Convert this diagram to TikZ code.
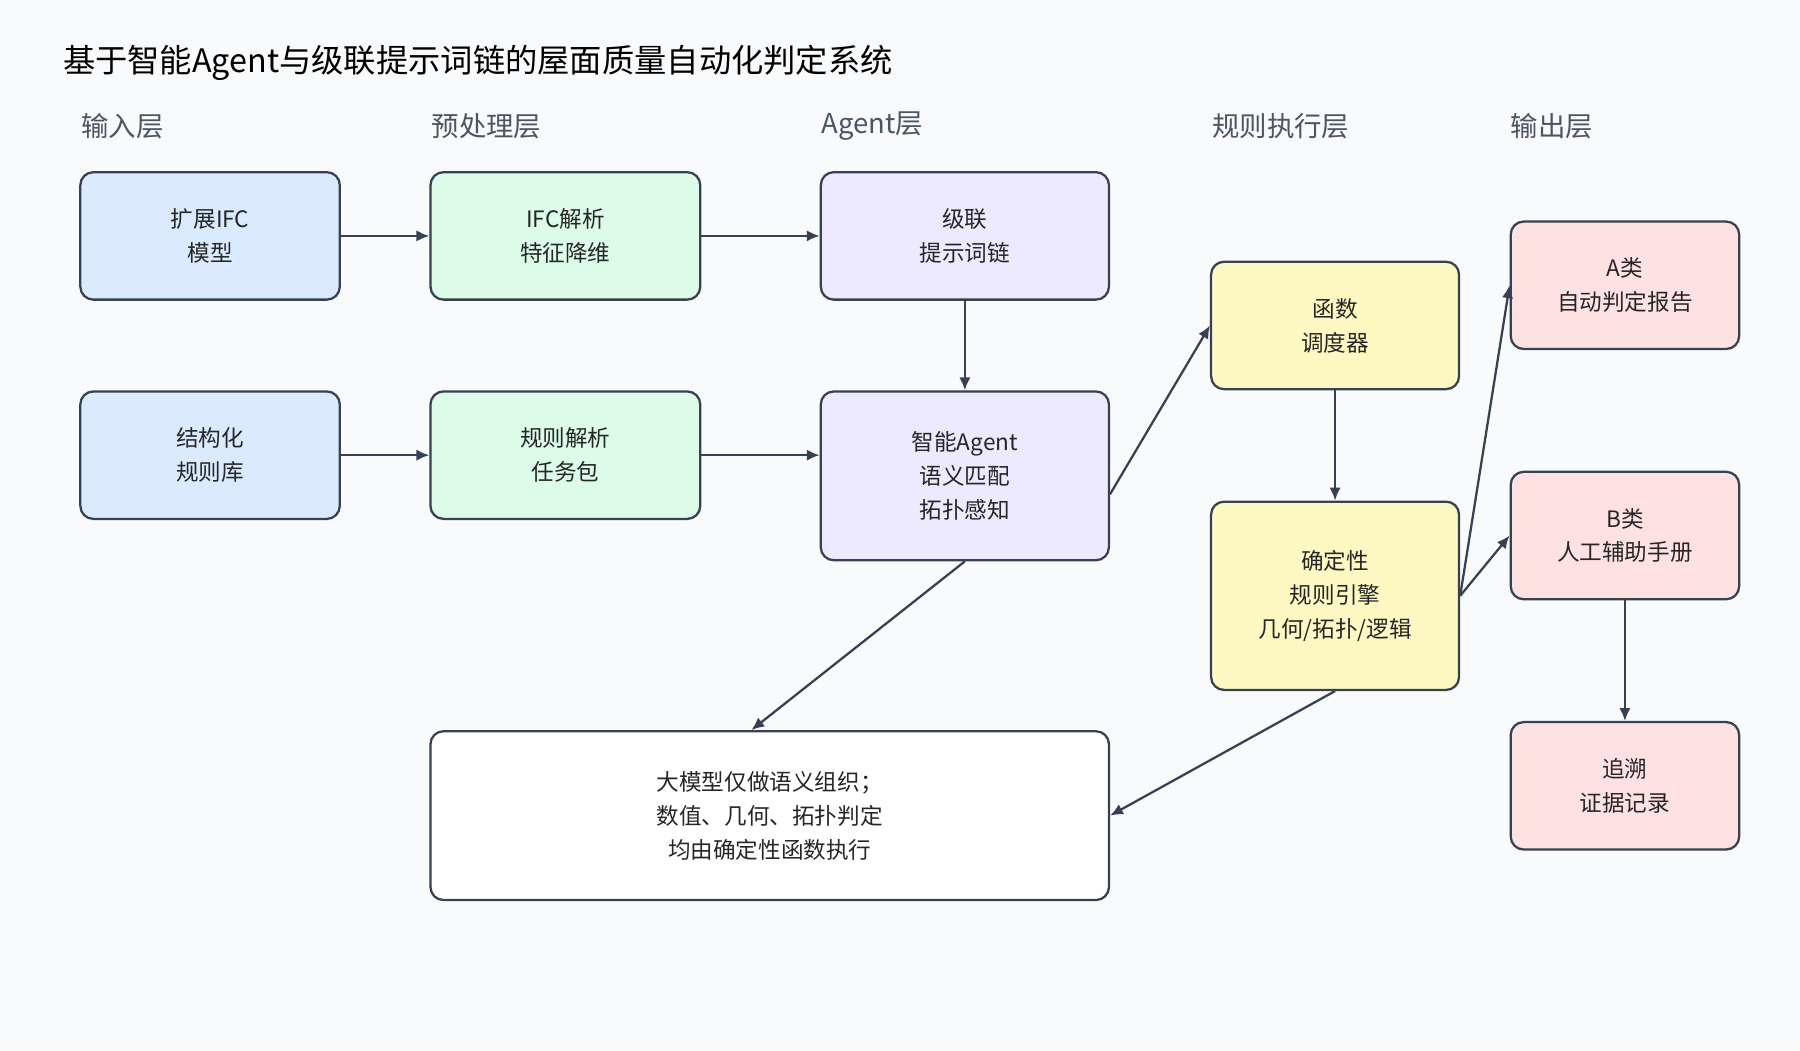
\documentclass[tikz,border=0pt]{standalone}
\usepackage{fontspec}
\setmainfont{Noto Sans CJK SC}
\usetikzlibrary{arrows.meta}
\definecolor{bgc}{HTML}{F8FAFC}
\definecolor{edge}{HTML}{374151}
\definecolor{layertxt}{HTML}{4B5563}
\definecolor{inblue}{HTML}{DBEAFE}
\definecolor{pregreen}{HTML}{DCFCE7}
\definecolor{agpurple}{HTML}{EDE9FE}
\definecolor{ruleyellow}{HTML}{FEF9C3}
\definecolor{outpink}{HTML}{FEE2E2}
\tikzset{
  box/.style={draw=edge, line width=1.4pt, rounded corners=8pt, align=center,
    font=\fontsize{14}{21}\selectfont, text=black!85},
  layer/.style={anchor=west, text=layertxt, font=\fontsize{17}{20}\selectfont},
  link/.style={draw=edge, line width=1.4pt, -{Latex[length=8pt,width=7pt]}}
}
% box from upper-left and lower-right corner (in px)
\newcommand{\mkbox}[7]{%
  \node[box, fill=#2, minimum width={(#5-#3)*0.025cm}, minimum height={(#6-#4)*0.025cm}]
    (#1) at ({(#3+#5)/2}, {(#4+#6)/2}) {#7};}
\begin{document}
\begin{tikzpicture}[x=0.025cm, y=-0.025cm]
  \fill[bgc] (0,0) rectangle (1568,915);
  \useasboundingbox (0,0) rectangle (1568,915);

  \node[anchor=west, font=\fontsize{20}{24}\selectfont] (title) at (50,55)
    {基于智能Agent与级联提示词链的屋面质量自动化判定系统};

  \node[layer] (l1) at (66,110) {输入层};
  \node[layer] (l2) at (371,110) {预处理层};
  \node[layer] (l3) at (711,110) {Agent层};
  \node[layer] (l4) at (1051,110) {规则执行层};
  \node[layer] (l5) at (1311,110) {输出层};

  \mkbox{ifc}{inblue}{70}{150}{296}{261}{扩展IFC\\模型}
  \mkbox{lib}{inblue}{70}{341}{296}{452}{结构化\\规则库}
  \mkbox{parse}{pregreen}{375}{150}{610}{261}{IFC解析\\特征降维}
  \mkbox{task}{pregreen}{375}{341}{610}{452}{规则解析\\任务包}
  \mkbox{chain}{agpurple}{715}{150}{966}{261}{级联\\提示词链}
  \mkbox{agent}{agpurple}{715}{341}{966}{488}{智能Agent\\语义匹配\\拓扑感知}
  \mkbox{sched}{ruleyellow}{1055}{228}{1271}{339}{函数\\调度器}
  \mkbox{engine}{ruleyellow}{1055}{437}{1271}{601}{确定性\\规则引擎\\几何/拓扑/逻辑}
  \mkbox{repA}{outpink}{1316}{193}{1515}{304}{A类\\自动判定报告}
  \mkbox{repB}{outpink}{1316}{411}{1515}{522}{B类\\人工辅助手册}
  \mkbox{trace}{outpink}{1316}{629}{1515}{740}{追溯\\证据记录}
  \mkbox{note}{white}{375}{637}{966}{784}{大模型仅做语义组织；\\数值、几何、拓扑判定\\均由确定性函数执行}

  \draw[link] (ifc) -- (parse);
  \draw[link] (parse) -- (chain);
  \draw[link] (lib) -- (task);
  \draw[link] (task.east) -- (task.east -| agent.west);
  \draw[link] (chain) -- (agent);
  \draw[link] ([yshift=-0.4cm]agent.east) -- (sched.west);
  \draw[link] (sched) -- (engine);
  \draw[link] (engine.east) -- (repA.west);
  \draw[link] (engine.east) -- (repB.west);
  \draw[link] (repB) -- (trace);
  \draw[link] (agent.south) -- ([xshift=-0.4cm]note.north);
  \draw[link] (engine.south) -- (note.east);
\end{tikzpicture}
\end{document}
